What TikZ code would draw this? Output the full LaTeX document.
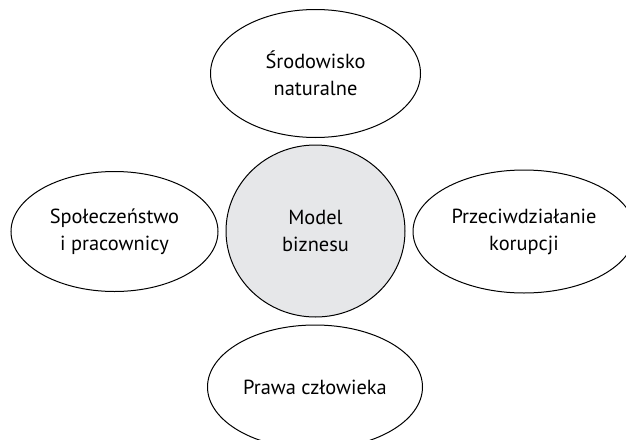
\documentclass[tikz,border=0pt]{standalone}
\usepackage{fontspec}
\setmainfont{PT Sans}
\usetikzlibrary{shapes.geometric}
\definecolor{corefill}{RGB}{230,231,233}
\tikzset{
  area/.style={ellipse,draw,line width=1pt,inner sep=0pt,align=center,
    font=\fontsize{20.4}{27}\selectfont},
}
\begin{document}
\begin{tikzpicture}[x=1pt,y=-1pt]
\useasboundingbox (0,0) rectangle (626,439);
% centre
\node[area,fill=corefill,minimum width=179,minimum height=172] (core) at (315.5,231) {Model\\biznesu};
% four areas round it
\node[area,minimum width=210,minimum height=128] (nature) at (315.5,73.5) {Środowisko\\naturalne};
\node[area,minimum width=207,minimum height=120] (society) at (114.5,231.5) {Społeczeństwo\\i pracownicy};
\node[area,minimum width=222,minimum height=123] (corruption) at (524,231.5) {Przeciwdziałanie\\korupcji};
\node[area,minimum width=215,minimum height=124] (rights) at (315,387) {Prawa człowieka};
\end{tikzpicture}
\end{document}
